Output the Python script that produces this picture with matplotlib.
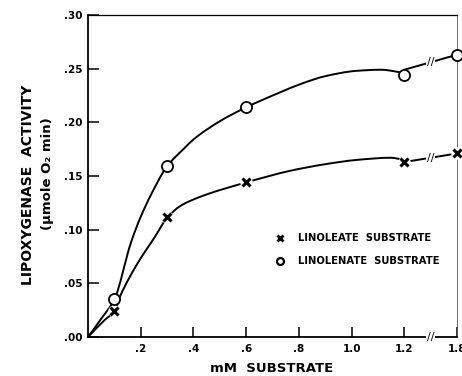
import numpy as np
import matplotlib
matplotlib.use("Agg")
import matplotlib.pyplot as plt
from matplotlib.path import Path
from matplotlib.patches import PathPatch

# measured points (mM substrate, activity)
conc = [0.1, 0.3, 0.6, 1.2, 1.8]
linoleate = [0.024, 0.112, 0.144, 0.163, 0.171]
linolenate = [0.035, 0.159, 0.214, 0.244, 0.263]

# hand drawn curves (up to 1.2, then broken axis)
lenate_curve_x = [0, 0.05, 0.1, 0.163, 0.2, 0.238, 0.3, 0.366, 0.4, 0.5, 0.6, 0.72, 0.81,
                  0.9, 1.02, 1.11, 1.2]
lenate_curve_y = [0, 0.017, 0.035, 0.088, 0.112, 0.132, 0.159, 0.176, 0.184, 0.201, 0.214,
                  0.227, 0.236, 0.243, 0.248, 0.249, 0.246]
leate_curve_x = [0, 0.064, 0.1, 0.12, 0.189, 0.253, 0.3, 0.35, 0.43, 0.6, 0.77, 0.9, 1.02, 1.147, 1.2]
leate_curve_y = [0, 0.016, 0.024, 0.037, 0.069, 0.093, 0.111, 0.122, 0.131, 0.144, 0.155, 0.161,
                 0.165, 0.167, 0.165]

xtick_vals = [0.2, 0.4, 0.6, 0.8, 1.0, 1.2, 1.8]
xtick_labels = [".2", ".4", ".6", ".8", "1.0", "1.2", "1.8"]
ytick_vals = [0.0, 0.05, 0.10, 0.15, 0.20, 0.25, 0.30]
ytick_labels = [".00", ".05", ".10", ".15", ".20", ".25", ".30"]


def pos(x):
    # broken x axis: 1.2 -> 1.8 squeezed into one tick step
    x = np.asarray(x, dtype=float)
    return np.where(x <= 1.2, x, 1.2 + (x - 1.2) / 3.0)


def smooth_path(xs, ys):
    # monotone hermite (pchip style) through the read points, as bezier segments
    x = pos(xs)
    y = np.asarray(ys, dtype=float)
    h = np.diff(x)
    d = np.diff(y) / h
    n = len(x)
    m = np.zeros(n)
    m[0], m[-1] = d[0], d[-1]
    for i in range(1, n - 1):
        if d[i - 1] * d[i] > 0:
            w1 = 2 * h[i] + h[i - 1]
            w2 = h[i] + 2 * h[i - 1]
            m[i] = (w1 + w2) / (w1 / d[i - 1] + w2 / d[i])
    verts = [(x[0], y[0])]
    codes = [Path.MOVETO]
    for i in range(n - 1):
        verts += [(x[i] + h[i] / 3, y[i] + m[i] * h[i] / 3),
                  (x[i + 1] - h[i] / 3, y[i + 1] - m[i + 1] * h[i] / 3),
                  (x[i + 1], y[i + 1])]
        codes += [Path.CURVE4] * 3
    return Path(verts, codes)


plt.rcParams["font.family"] = ["DejaVu Sans"]
plt.rcParams["font.weight"] = "bold"

fig = plt.figure(figsize=(4.62, 3.76), dpi=100)
ax = fig.add_axes([88 / 462, 1 - 337 / 376, (457 - 88) / 462, (337 - 15) / 376])

lw = 1.4
# curves
for cx, cy in [(lenate_curve_x, lenate_curve_y), (leate_curve_x, leate_curve_y)]:
    ax.add_patch(PathPatch(smooth_path(cx, cy), fc="none", ec="black", lw=lw,
                           zorder=2, capstyle="round"))
ax.plot(pos([1.2, 1.8]), [0.249, linolenate[4]], color="black", lw=lw, zorder=2)
ax.plot(pos(conc[3:]), linoleate[3:], color="black", lw=lw, zorder=2)

# markers (white halo behind the X marks, like the gaps in the drawing)
ax.plot(pos(conc), linoleate, "o", ms=9, mfc="white", mec="none", zorder=3, clip_on=False)
ax.plot(pos(conc), linolenate, "o", ms=8, mfc="white", mec="black", mew=1.3,
        zorder=4, clip_on=False)
ax.plot(pos(conc), linoleate, "x", ms=6, mec="black", mew=2.2, zorder=4, clip_on=False)

# break marks on curves and axis
brk = 1.3
for yb in [np.interp(brk, pos([1.2, 1.8]), [0.249, linolenate[4]]),
           np.interp(brk, pos(conc[3:]), linoleate[3:]), 0.0]:
    ax.text(brk, yb, "//", ha="center", va="center", fontsize=8, fontweight="normal",
            bbox=dict(boxstyle="square,pad=0.05", fc="white", ec="none"),
            zorder=5, clip_on=False)

ax.set_xlim(0, 1.4)
ax.set_ylim(0, 0.30)
ax.set_xticks(pos(xtick_vals))
ax.set_xticklabels(xtick_labels, fontsize=7.5, fontweight="bold")
ax.set_yticks(ytick_vals)
ax.set_yticklabels(ytick_labels, fontsize=7.5, fontweight="bold")
ax.tick_params(axis="x", direction="in", length=7, width=1.1, pad=5)
ax.tick_params(axis="y", direction="in", length=8, width=1.1, pad=4)

ax.spines["left"].set_linewidth(1.3)
ax.spines["bottom"].set_linewidth(1.3)
ax.spines["top"].set_linewidth(0.9)
ax.spines["right"].set_linewidth(0.6)
ax.spines["right"].set_color("#555555")

# legend drawn as text
ax.plot([0.73], [0.092], "x", ms=5, mec="black", mew=2)
ax.text(0.795, 0.092, "LINOLEATE  SUBSTRATE", fontsize=7.2, fontweight="bold", va="center")
ax.plot([0.73], [0.071], "o", ms=5, mfc="white", mec="black", mew=1.6)
ax.text(0.795, 0.071, "LINOLENATE  SUBSTRATE", fontsize=7.2, fontweight="bold", va="center")

fig.text(272 / 462, 1 - 368 / 376, "mM  SUBSTRATE", ha="center", va="center",
         fontsize=9.5, fontweight="bold")
fig.text(28 / 462, 1 - 185 / 376, "LIPOXYGENASE  ACTIVITY", rotation=90, ha="center",
         va="center", fontsize=10, fontweight="bold")
fig.text(47 / 462, 1 - 174 / 376, "(\u00b5mole O\u2082 min)", rotation=90, ha="center",
         va="center", fontsize=9.5, fontweight="bold")

fig.savefig("out.png", dpi=100)
